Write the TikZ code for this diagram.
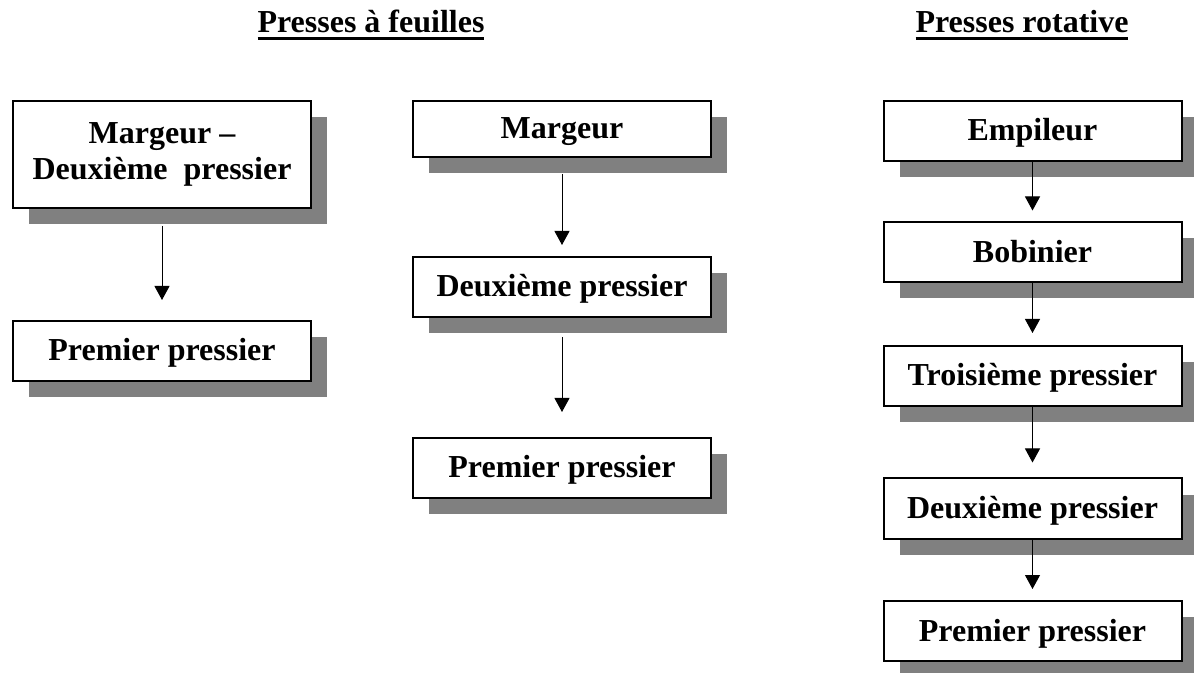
\documentclass[tikz,border=0pt]{standalone}
\usepackage{fontspec}
\setmainfont{Liberation Serif}
\usetikzlibrary{shadows,arrows.meta,positioning}
\newcommand{\souligne}[1]{\setbox0\hbox{#1}\rlap{\raisebox{-3.5pt}{\rule{\wd0}{1.5pt}}}\box0}

\begin{document}
\begin{tikzpicture}[x=0.5pt,y=-0.5pt,every node/.style={align=center,font=\fontsize{16}{18}\selectfont\bfseries},
etape/.style={draw,line width=1pt,fill=white,minimum width=149pt,minimum height=30pt,inner sep=2pt,
  text height=12pt,text depth=2pt,
  drop shadow={shadow xshift=8pt,shadow yshift=-8pt,fill=black!50,opacity=1}},
fleche/.style={-{Triangle[width=7.5pt,length=7pt]},line width=0.5pt}
]
\useasboundingbox (0,0) rectangle (1194,673);

% titres
\node[anchor=base] (feuilles) at (371,33) {\souligne{Presses à feuilles}};
\node[anchor=base] (rotative) at (1022,33) {\souligne{Presses rotative}};

% presses a feuilles, premier cas
\node[etape,minimum height=53.5pt,text height=,text depth=] (marg1) at (162,154.5) {Margeur --\\ Deuxième\ \ pressier};
\node[etape] (prem1) at (162,351) {Premier pressier};

% presses a feuilles, second cas
\node[etape,minimum height=28pt] (marg2) at (562,129) {Margeur};
\node[etape] (deux2) at (562,287) {Deuxième pressier};
\node[etape] (prem2) at (562,468) {Premier pressier};

% presses rotatives
\node[etape] (empil) at (1032.5,131) {Empileur};
\node[etape] (bobin) at (1032.5,252.5) {Bobinier};
\node[etape] (trois3) at (1032.5,376) {Troisième pressier};
\node[etape] (deux3) at (1032.5,508.5) {Deuxième pressier};
\node[etape] (prem3) at (1032.5,631) {Premier pressier};

\draw[fleche,shorten <=8.5pt,shorten >=10pt] (marg1) -- (prem1);
\draw[fleche,shorten <=8pt,shorten >=5.5pt] (marg2) -- (deux2);
\draw[fleche,shorten <=9.5pt,shorten >=12.5pt] (deux2) -- (prem2);
\draw[fleche,shorten >=5.5pt] (empil) -- (bobin);
\draw[fleche,shorten >=6pt] (bobin) -- (trois3);
\draw[fleche,shorten >=7.5pt] (trois3) -- (deux3);
\draw[fleche,shorten >=5.5pt] (deux3) -- (prem3);
\end{tikzpicture}
\end{document}
